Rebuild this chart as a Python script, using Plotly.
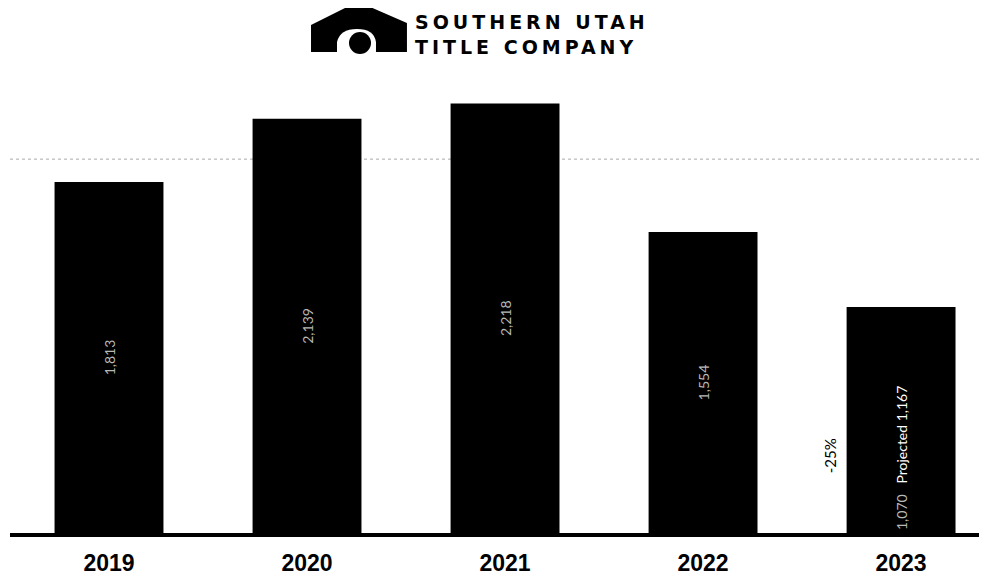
import plotly.graph_objects as go

years = ["2019", "2020", "2021", "2022", "2023"]
values = [1813, 2139, 2218, 1554, 1167]
bar_labels = ["1,813", "2,139", "2,218", "1,554",
              "1,070 <span style='color:#ffffff'>  Projected 1,167</span>"]
average = 1931
change_label = "-25%"

# page pixel -> paper coords (plot area spans x 10..987, y 60..533 in the page)
def px(x):
    return (x - 10) / 977.0

def py(y):
    return (533 - y) / 473.0

fig = go.Figure()

fig.add_trace(go.Bar(
    x=years[:4], y=values[:4], text=bar_labels[:4],
    marker=dict(color="#000000", line=dict(width=0)),
    width=0.55,
    textposition="inside", textangle=-90, insidetextanchor="middle",
    textfont=dict(color="#b8b8b8", size=14, family="Lato"),
    showlegend=False,
))
fig.add_trace(go.Bar(
    x=years[4:], y=values[4:], text=bar_labels[4:],
    marker=dict(color="#000000", line=dict(width=0)),
    width=0.55,
    textposition="inside", textangle=-90, insidetextanchor="start",
    textfont=dict(color="#b8b8b8", size=14, family="Lato"),
    showlegend=False,
))

fig.add_shape(type="line", xref="paper", yref="y", x0=0, x1=1, y0=average, y1=average,
              line=dict(color="#aaaaaa", width=1, dash="dot"), layer="below")
fig.add_annotation(x=years[0], y=average, yref="y", yshift=23, text="<b>Average: 1,931</b>",
                   showarrow=False, font=dict(family="Lato", size=13, color="#000"))

fig.add_annotation(x=3.64, y=400, xref="x", yref="y", text=change_label, textangle=-90,
                   showarrow=False, font=dict(family="Lato", size=15, color="#000"))

# Logo: house icon
house = [(311, 52), (311, 25), (355, 3), (361, 3), (407, 23), (407, 52)]
path = "M " + " L ".join("%.4f %.4f" % (px(a), py(b)) for a, b in house) + " Z"
fig.add_shape(type="path", xref="paper", yref="paper", path=path,
              fillcolor="#000", line=dict(width=0))
door = "M %.4f %.4f L %.4f %.4f Q %.4f %.4f %.4f %.4f Q %.4f %.4f %.4f %.4f L %.4f %.4f Z" % (
    px(337), py(52), px(337), py(42), px(340), py(29), px(357), py(29),
    px(374), py(29), px(376), py(42), px(376), py(52))
fig.add_shape(type="path", xref="paper", yref="paper", path=door,
              fillcolor="#fff", line=dict(width=0))
fig.add_shape(type="circle", xref="paper", yref="paper",
              x0=px(349), x1=px(371), y0=py(54), y1=py(32),
              fillcolor="#000", line=dict(width=0))
fig.add_annotation(xref="paper", yref="paper", x=px(413), y=py(34), xanchor="left",
                   yanchor="middle",
                   text="<b><span style='letter-spacing:4px'>SOUTHERN UTAH</span></b><br>"
                        "<b><span style='letter-spacing:4px'>TITLE COMPANY</span></b>",
                   showarrow=False, align="left",
                   font=dict(family="DejaVu Sans", size=19, color="#000"))

fig.update_layout(
    width=979, height=572,
    margin=dict(l=2, r=0, t=52, b=47),
    plot_bgcolor="#ffffff", paper_bgcolor="#ffffff",
    barmode="overlay",
    xaxis=dict(range=[-0.5, 4.434], showline=True, linecolor="#000", linewidth=4,
               ticks="", showgrid=False, zeroline=False, ticklabelstandoff=6,
               tickmode="array", tickvals=years, ticktext=["<b>%s</b>" % y for y in years],
               tickfont=dict(family="Liberation Sans", size=23, color="#000")),
    yaxis=dict(range=[0, 2443], visible=False, showgrid=False),
)

fig.write_html("out.html")
